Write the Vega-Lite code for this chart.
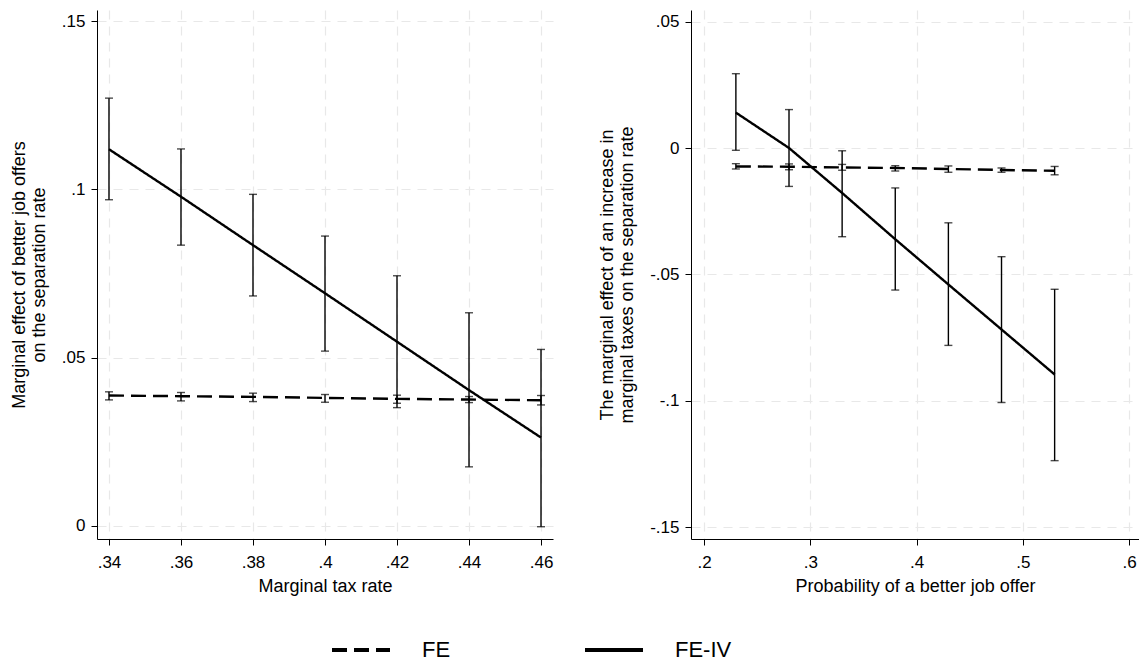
{
  "$schema": "https://vega.github.io/schema/vega-lite/v6.json",
  "background": "white",
  "padding": {"left": 10, "top": 10, "right": 0, "bottom": 0},
  "autosize": {"type": "pad"},
  "bounds": "flush",
  "spacing": 138,
  "config": {
    "view": {"stroke": null},
    "font": "Liberation Sans",
    "axis": {
      "domainColor": "black", "domainWidth": 1,
      "tickColor": "black", "tickSize": 6, "tickWidth": 1,
      "labelFont": "Liberation Sans", "labelFontSize": 17, "labelColor": "black",
      "titleFont": "Liberation Sans", "titleFontSize": 18, "titleFontWeight": "normal", "titleColor": "black",
      "gridColor": "#e8e8e8", "gridDash": [9, 7], "gridWidth": 1.2
    },
    "axisX": {"labelPadding": 9, "titlePadding": 7},
    "axisY": {"labelPadding": 6, "titlePadding": 13}
  },
  "datasets": {
    "left": [
      {"x": 0.34, "series": "FE-IV", "est": 0.1119, "lo": 0.0969, "hi": 0.1271},
      {"x": 0.36, "series": "FE-IV", "est": 0.0978, "lo": 0.0834, "hi": 0.1120},
      {"x": 0.38, "series": "FE-IV", "est": 0.0834, "lo": 0.0683, "hi": 0.0985},
      {"x": 0.40, "series": "FE-IV", "est": 0.0691, "lo": 0.0519, "hi": 0.0861},
      {"x": 0.42, "series": "FE-IV", "est": 0.0547, "lo": 0.0351, "hi": 0.0743},
      {"x": 0.44, "series": "FE-IV", "est": 0.0403, "lo": 0.0175, "hi": 0.0633},
      {"x": 0.46, "series": "FE-IV", "est": 0.0262, "lo": -0.0003, "hi": 0.0524},
      {"x": 0.34, "series": "FE", "est": 0.0387, "lo": 0.0374, "hi": 0.0398},
      {"x": 0.36, "series": "FE", "est": 0.0385, "lo": 0.0371, "hi": 0.0396},
      {"x": 0.38, "series": "FE", "est": 0.0383, "lo": 0.0369, "hi": 0.0394},
      {"x": 0.40, "series": "FE", "est": 0.0380, "lo": 0.0367, "hi": 0.0390},
      {"x": 0.42, "series": "FE", "est": 0.0377, "lo": 0.0364, "hi": 0.0388},
      {"x": 0.44, "series": "FE", "est": 0.0375, "lo": 0.0366, "hi": 0.0384},
      {"x": 0.46, "series": "FE", "est": 0.0373, "lo": 0.0359, "hi": 0.0387}
    ],
    "right": [
      {"x": 0.23, "series": "FE-IV", "est": 0.0140, "lo": -0.0009, "hi": 0.0294},
      {"x": 0.28, "series": "FE-IV", "est": 0.0000, "lo": -0.0152, "hi": 0.0152},
      {"x": 0.33, "series": "FE-IV", "est": -0.0178, "lo": -0.0351, "hi": -0.0011},
      {"x": 0.38, "series": "FE-IV", "est": -0.0361, "lo": -0.0562, "hi": -0.0158},
      {"x": 0.43, "series": "FE-IV", "est": -0.0540, "lo": -0.0781, "hi": -0.0296},
      {"x": 0.48, "series": "FE-IV", "est": -0.0718, "lo": -0.1007, "hi": -0.0430},
      {"x": 0.53, "series": "FE-IV", "est": -0.0896, "lo": -0.1237, "hi": -0.0559},
      {"x": 0.23, "series": "FE", "est": -0.0073, "lo": -0.0083, "hi": -0.0062},
      {"x": 0.28, "series": "FE", "est": -0.0074, "lo": -0.0086, "hi": -0.0063},
      {"x": 0.33, "series": "FE", "est": -0.0077, "lo": -0.0088, "hi": -0.0065},
      {"x": 0.38, "series": "FE", "est": -0.0079, "lo": -0.0091, "hi": -0.0070},
      {"x": 0.43, "series": "FE", "est": -0.0083, "lo": -0.0096, "hi": -0.0071},
      {"x": 0.48, "series": "FE", "est": -0.0087, "lo": -0.0096, "hi": -0.0079},
      {"x": 0.53, "series": "FE", "est": -0.0090, "lo": -0.0106, "hi": -0.0073}
    ]
  },
  "hconcat": [
    {
      "width": 456,
      "height": 529,
      "data": {"name": "left"},
      "encoding": {
        "x": {
          "field": "x", "type": "quantitative",
          "scale": {"domain": [0.33667, 0.46333], "nice": false, "zero": false},
          "axis": {"title": "Marginal tax rate", "values": [0.34, 0.36, 0.38, 0.4, 0.42, 0.44, 0.46], "format": ".2~f", "labelExpr": "replace(datum.label, '0.', '.')"}
        }
      },
      "layer": [
        {
          "mark": {"type": "rule", "color": "black", "strokeWidth": 1.4},
          "encoding": {
            "y": {
              "field": "lo", "type": "quantitative",
              "scale": {"domain": [-0.00395, 0.1533], "nice": false, "zero": false},
              "axis": {"title": ["Marginal effect of better job offers", "on the separation rate"], "values": [0, 0.05, 0.1, 0.15], "format": ".2~f", "labelExpr": "replace(datum.label, '0.', '.')"}
            },
            "y2": {"field": "hi"}
          }
        },
        {
          "mark": {"type": "tick", "orient": "horizontal", "color": "black", "size": 8, "thickness": 1.4},
          "encoding": {"y": {"field": "lo", "type": "quantitative"}}
        },
        {
          "mark": {"type": "tick", "orient": "horizontal", "color": "black", "size": 8, "thickness": 1.4},
          "encoding": {"y": {"field": "hi", "type": "quantitative"}}
        },
        {
          "mark": {"type": "line", "color": "black", "strokeWidth": 2.4},
          "encoding": {
            "y": {"field": "est", "type": "quantitative"},
            "strokeDash": {
              "field": "series", "type": "nominal",
              "scale": {"domain": ["FE", "FE-IV"], "range": [[15, 7], [1, 0]]},
              "legend": {"orient": "none", "legendX": 233, "legendY": 609, "direction": "horizontal", "title": null, "symbolType": "stroke", "symbolSize": 3364, "symbolStrokeWidth": 4, "symbolStrokeColor": "black", "labelFontSize": 22, "labelFont": "Liberation Sans", "labelColor": "black", "labelOffset": 30, "columnPadding": 126}
            }
          }
        }
      ]
    },
    {
      "width": 448,
      "height": 529,
      "data": {"name": "right"},
      "encoding": {
        "x": {
          "field": "x", "type": "quantitative",
          "scale": {"domain": [0.18776, 0.6094], "nice": false, "zero": false},
          "axis": {"title": "Probability of a better job offer", "values": [0.2, 0.3, 0.4, 0.5, 0.6], "format": ".1~f", "labelExpr": "replace(datum.label, '0.', '.')"}
        }
      },
      "layer": [
        {
          "mark": {"type": "rule", "color": "black", "strokeWidth": 1.4},
          "encoding": {
            "y": {
              "field": "lo", "type": "quantitative",
              "scale": {"domain": [-0.1547, 0.0546], "nice": false, "zero": false},
              "axis": {"title": ["The marginal effect of an increase in", "marginal taxes on the separation rate"], "values": [-0.15, -0.1, -0.05, 0, 0.05], "format": ".2~f", "labelExpr": "replace(replace(datum.label, '0.', '.'), '\u2212', '-')"}
            },
            "y2": {"field": "hi"}
          }
        },
        {
          "mark": {"type": "tick", "orient": "horizontal", "color": "black", "size": 8, "thickness": 1.4},
          "encoding": {"y": {"field": "lo", "type": "quantitative"}}
        },
        {
          "mark": {"type": "tick", "orient": "horizontal", "color": "black", "size": 8, "thickness": 1.4},
          "encoding": {"y": {"field": "hi", "type": "quantitative"}}
        },
        {
          "mark": {"type": "line", "color": "black", "strokeWidth": 2.4},
          "encoding": {
            "y": {"field": "est", "type": "quantitative"},
            "strokeDash": {
              "field": "series", "type": "nominal",
              "scale": {"domain": ["FE", "FE-IV"], "range": [[15, 7], [1, 0]]},
              "legend": {"orient": "none", "legendX": 233, "legendY": 609, "direction": "horizontal", "title": null, "symbolType": "stroke", "symbolSize": 3364, "symbolStrokeWidth": 4, "symbolStrokeColor": "black", "labelFontSize": 22, "labelFont": "Liberation Sans", "labelColor": "black", "labelOffset": 30, "columnPadding": 126}
            }
          }
        }
      ]
    }
  ]
}
